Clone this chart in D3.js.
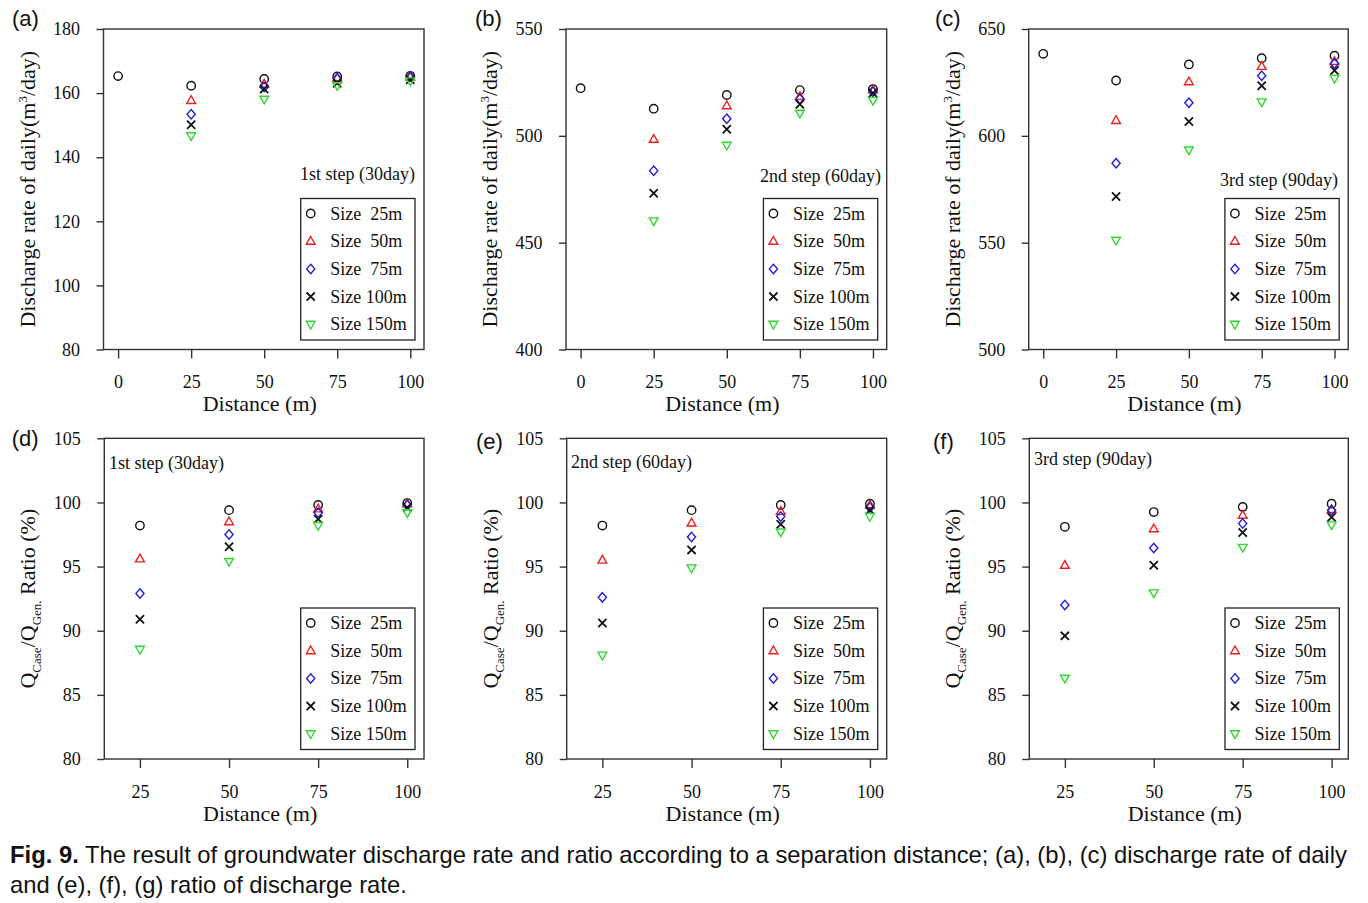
<!DOCTYPE html>
<html>
<head>
<meta charset="utf-8">
<script src="https://cdn.jsdelivr.net/npm/d3@7"></script>
<style>
  html, body { margin: 0; padding: 0; background: #fff; }
  svg { display: block; }
</style>
</head>
<body>
<svg id="chart" width="1368" height="903"></svg>
<script>
// ---------------- DATA ----------------
const panelLabels = ["(a)", "(b)", "(c)", "(d)", "(e)", "(f)"];
const stepLabels = ["1st step (30day)", "2nd step (60day)", "3rd step (90day)"];
const sizeLabels = ["Size  25m", "Size  50m", "Size  75m", "Size 100m", "Size 150m"];
const distances = [25, 50, 75, 100];
const topXTicks = [0, 25, 50, 75, 100];
const bottomXTicks = [25, 50, 75, 100];
const yTicksA = [80, 100, 120, 140, 160, 180];
const yTicksB = [400, 450, 500, 550];
const yTicksC = [500, 550, 600, 650];
const yTicksRatio = [80, 85, 90, 95, 100, 105];

// discharge at distance 0 (general case)
const baseRate = [165.3, 522.3, 638.4];

// discharge rate (m3/day), rows = sizes 25,50,75,100,150 ; columns = distance 25,50,75,100
const rateA = [
  [162.3, 164.4, 165.2, 165.4],
  [157.7, 162.8, 164.7, 165.0],
  [153.4, 161.9, 164.6, 165.2],
  [150.1, 161.3, 163.1, 164.2],
  [146.7, 158.1, 162.3, 163.8]
];
const rateB = [
  [512.7, 519.1, 521.4, 521.9],
  [498.4, 514.1, 518.4, 521.5],
  [483.7, 508.0, 517.2, 520.6],
  [473.1, 503.1, 514.8, 520.0],
  [460.2, 495.6, 510.6, 516.6]
];
const rateC = [
  [625.9, 633.4, 636.3, 637.5],
  [607.2, 625.3, 632.5, 634.8],
  [587.2, 615.5, 628.1, 633.8],
  [571.6, 606.7, 623.4, 630.6],
  [551.1, 593.4, 615.9, 626.9]
];
// ratio (%)
const ratioD = [
  [98.2, 99.4, 99.8, 99.95],
  [95.6, 98.5, 99.5, 99.9],
  [92.9, 97.5, 99.2, 99.8],
  [90.9, 96.55, 98.7, 99.6],
  [88.55, 95.4, 98.2, 99.2]
];
const ratioE = [
  [98.2, 99.4, 99.8, 99.9],
  [95.5, 98.4, 99.3, 99.8],
  [92.6, 97.3, 98.9, 99.6],
  [90.6, 96.3, 98.3, 99.4],
  [88.1, 94.9, 97.7, 98.9]
];
const ratioF = [
  [98.1, 99.25, 99.65, 99.9],
  [95.1, 97.95, 99.0, 99.45],
  [92.0, 96.45, 98.35, 99.4],
  [89.6, 95.1, 97.65, 98.85],
  [86.3, 92.95, 96.5, 98.25]
];

// ---------------- STYLE / LAYOUT ----------------
const serif = "'Liberation Serif', 'Times New Roman', serif";
const sans = "'Liberation Sans', Arial, sans-serif";
const seriesColors = ["#111111", "#e82020", "#2020d8", "#111111", "#30d830"];
const seriesShapes = ["circle", "triangle", "diamond", "cross", "invtriangle"];

const panels = [
  { label: panelLabels[0], step: stepLabels[0], data: rateA, base: baseRate[0], yTicks: yTicksA, type: "rate",
    left: 103.5, top: 29, w: 320.5, h: 320.5, lab: [12, 25.7], stepPos: [415, 180] },
  { label: panelLabels[1], step: stepLabels[1], data: rateB, base: baseRate[1], yTicks: yTicksB, type: "rate",
    left: 566, top: 29, w: 320.7, h: 320.5, lab: [475, 25.7], stepPos: [881, 182] },
  { label: panelLabels[2], step: stepLabels[2], data: rateC, base: baseRate[2], yTicks: yTicksC, type: "rate",
    left: 1028.7, top: 29, w: 319.5, h: 320.5, lab: [935, 25.7], stepPos: [1338, 186] },
  { label: panelLabels[3], step: stepLabels[0], data: ratioD, yTicks: yTicksRatio, type: "ratio",
    left: 104.3, top: 438.3, w: 319.7, h: 320.7, lab: [11.7, 446.4], stepPos: [109, 469] },
  { label: panelLabels[4], step: stepLabels[1], data: ratioE, yTicks: yTicksRatio, type: "ratio",
    left: 566.7, top: 438.3, w: 320, h: 320.7, lab: [476, 448.7], stepPos: [571, 467.5] },
  { label: panelLabels[5], step: stepLabels[2], data: ratioF, yTicks: yTicksRatio, type: "ratio",
    left: 1029.3, top: 438.3, w: 319, h: 320.7, lab: [933, 448.7], stepPos: [1034, 465] }
];

const svg = d3.select("#chart");

function drawMarker(g, shape, color, x, y) {
  const s = 4.4;
  const sw = 1.4;
  if (shape === "circle") {
    g.append("circle").attr("cx", x).attr("cy", y).attr("r", 4.2)
      .attr("fill", "none").attr("stroke", color).attr("stroke-width", sw);
  } else if (shape === "triangle") {
    g.append("path").attr("d", `M${x},${y - 4.7}L${x + s},${y + 3}L${x - s},${y + 3}Z`)
      .attr("fill", "none").attr("stroke", color).attr("stroke-width", sw);
  } else if (shape === "invtriangle") {
    g.append("path").attr("d", `M${x},${y + 4.7}L${x + s},${y - 3}L${x - s},${y - 3}Z`)
      .attr("fill", "none").attr("stroke", color).attr("stroke-width", sw);
  } else if (shape === "diamond") {
    g.append("path").attr("d", `M${x},${y - 4.7}L${x + 4.1},${y}L${x},${y + 4.7}L${x - 4.1},${y}Z`)
      .attr("fill", "none").attr("stroke", color).attr("stroke-width", sw);
  } else if (shape === "cross") {
    const c = 4.1;
    g.append("path").attr("d", `M${x - c},${y - c}L${x + c},${y + c}M${x - c},${y + c}L${x + c},${y - c}`)
      .attr("fill", "none").attr("stroke", color).attr("stroke-width", 1.8);
  }
}

panels.forEach(p => {
  const g = svg.append("g");
  const xDomain = p.type === "rate" ? [-5, 104.7] : [15, 104.7];
  const x = d3.scaleLinear().domain(xDomain).range([p.left, p.left + p.w]);
  const yDom = d3.extent(p.yTicks);
  const y = d3.scaleLinear().domain(yDom).range([p.top + p.h, p.top]);

  // axes
  const xAxis = d3.axisBottom(x).tickValues(p.type === "rate" ? topXTicks : bottomXTicks)
    .tickSize(9).tickPadding(17).tickFormat(d3.format("d"));
  const yAxis = d3.axisLeft(y).tickValues(p.yTicks).tickSize(7).tickPadding(16.5).tickFormat(d3.format("d"));

  const gx = g.append("g").attr("transform", `translate(0,${p.top + p.h})`).call(xAxis);
  const gy = g.append("g").attr("transform", `translate(${p.left},0)`).call(yAxis);
  [gx, gy].forEach(a => {
    a.select(".domain").remove();
    a.selectAll(".tick line").attr("stroke", "#333").attr("stroke-width", 1.4);
    a.selectAll(".tick text").attr("fill", "#111").style("font-family", serif).style("font-size", "18px");
  });

  // frame
  g.append("rect").attr("x", p.left).attr("y", p.top).attr("width", p.w).attr("height", p.h)
    .attr("fill", "none").attr("stroke", "#333").attr("stroke-width", 1.4);

  // axis titles
  g.append("text").attr("x", p.left + p.w / 2 - 4).attr("y", p.top + p.h + 61.5)
    .attr("text-anchor", "middle").style("font-family", serif).style("font-size", "22px")
    .attr("fill", "#111").text("Distance (m)");

  const yt = g.append("text")
    .attr("transform", `translate(${p.left - 69},${p.top + p.h / 2}) rotate(-90)`)
    .attr("text-anchor", "middle").style("font-family", serif).style("font-size", "22px")
    .attr("fill", "#111");
  if (p.type === "rate") {
    yt.append("tspan").text("Discharge rate of daily(m");
    yt.append("tspan").attr("dy", -8).style("font-size", "13px").text("3");
    yt.append("tspan").attr("dy", 8).text("/day)");
  } else {
    yt.append("tspan").text("Q");
    yt.append("tspan").attr("dy", 6).style("font-size", "13px").text("Case");
    yt.append("tspan").attr("dy", -6).text("/Q");
    yt.append("tspan").attr("dy", 6).style("font-size", "13px").text("Gen.");
    yt.append("tspan").attr("dy", -6).text(" Ratio (%)");
  }

  // panel label
  g.append("text").attr("x", p.lab[0]).attr("y", p.lab[1]).style("font-family", sans)
    .style("font-size", "22px").attr("fill", "#111").text(p.label);

  // step label
  g.append("text").attr("x", p.stepPos[0]).attr("y", p.stepPos[1])
    .attr("text-anchor", p.type === "rate" ? "end" : "start")
    .style("font-family", serif).style("font-size", "18px").attr("fill", "#111").text(p.step);

  // data points
  const pts = g.append("g");
  if (p.type === "rate") {
    drawMarker(pts, "circle", seriesColors[0], x(0), y(p.base));
  }
  p.data.forEach((row, si) => {
    row.forEach((v, di) => {
      drawMarker(pts, seriesShapes[si], seriesColors[si], x(distances[di]), y(v));
    });
  });

  // legend
  const lw = 114.3, lh = 141.5;
  const lx = p.left + p.w - 9 - lw;
  const ly = p.top + p.h - 9.5 - lh;
  const lg = g.append("g");
  lg.append("rect").attr("x", lx).attr("y", ly).attr("width", lw).attr("height", lh)
    .attr("fill", "#fff").attr("stroke", "#222").attr("stroke-width", 1.3);
  sizeLabels.forEach((lab, i) => {
    const cy = ly + 15 + i * 27.7;
    drawMarker(lg, seriesShapes[i], seriesColors[i], lx + 10, cy);
    lg.append("text").attr("x", lx + 29.5).attr("y", cy + 6)
      .attr("xml:space", "preserve").style("white-space", "pre")
      .style("font-family", serif).style("font-size", "18px").attr("fill", "#111").text(lab);
  });
});

// caption
const cap = svg.append("g");
const line1 = cap.append("text").attr("x", 10).attr("y", 863)
  .style("font-family", sans).style("font-size", "20px").attr("fill", "#111");
line1.append("tspan").style("font-weight", "bold").text("Fig. 9.");
line1.append("tspan").text(" The result of groundwater discharge rate and ratio according to a separation distance; (a), (b), (c) discharge rate of daily");
const line2 = cap.append("text").attr("x", 10).attr("y", 893)
  .style("font-family", sans).style("font-size", "20px").attr("fill", "#111")
  .text("and (e), (f), (g) ratio of discharge rate.");
// fit line 1 width to the reference span
const L = line1.node().getComputedTextLength();
const fs = 20 * 1338 / L;
line1.style("font-size", fs + "px");
line2.style("font-size", fs + "px");
</script>
</body>
</html>
